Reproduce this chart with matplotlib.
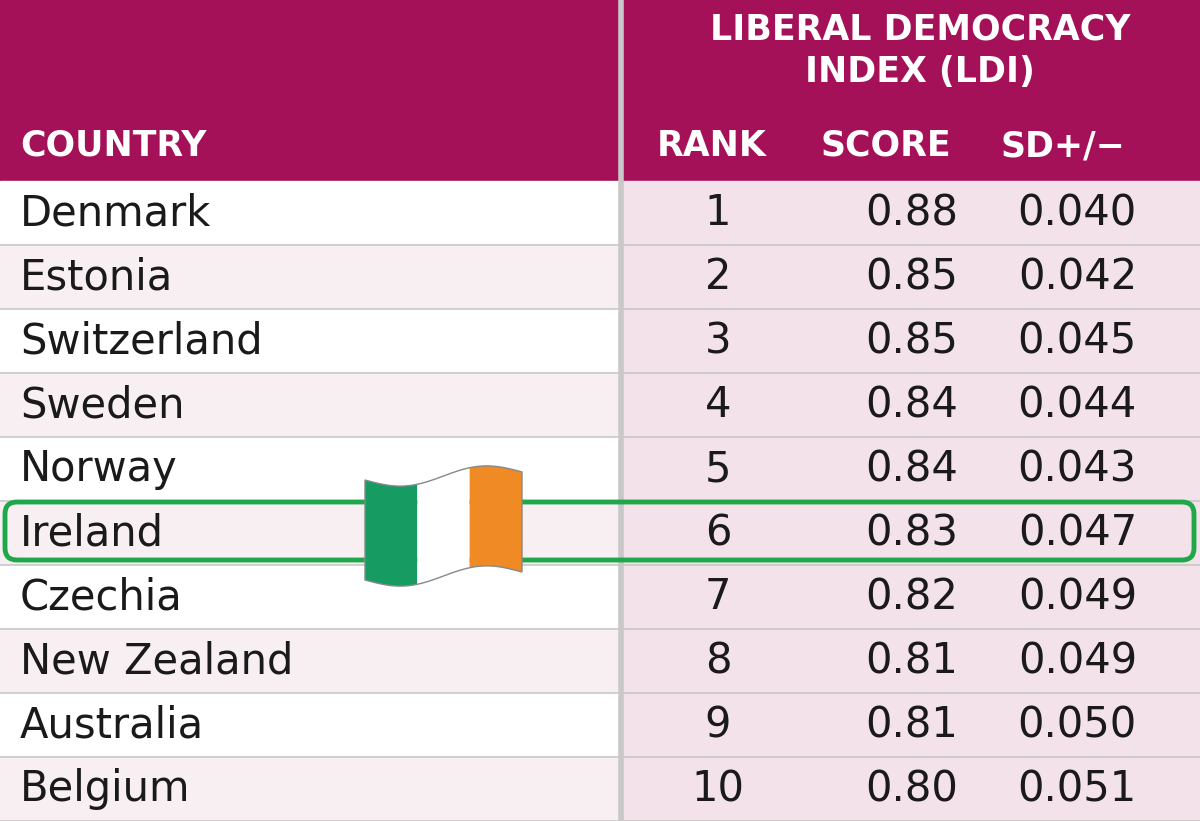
import matplotlib.pyplot as plt
from matplotlib.patches import Rectangle, FancyBboxPatch, Polygon
import numpy as np

countries = ['Denmark', 'Estonia', 'Switzerland', 'Sweden', 'Norway',
             'Ireland', 'Czechia', 'New Zealand', 'Australia', 'Belgium']
ranks = [1, 2, 3, 4, 5, 6, 7, 8, 9, 10]
scores = ['0.88', '0.85', '0.85', '0.84', '0.84', '0.83', '0.82', '0.81', '0.81', '0.80']
sds = ['0.040', '0.042', '0.045', '0.044', '0.043', '0.047', '0.049', '0.049', '0.050', '0.051']

magenta = '#A51158'
fig = plt.figure(figsize=(12, 8.21), dpi=100)
ax = fig.add_axes([0, 0, 1, 1])
ax.set_xlim(0, 1200)
ax.set_ylim(821, 0)
ax.axis('off')

top = 181
row_h = 64
# header
ax.add_patch(Rectangle((0, 0), 1200, top, color=magenta, zorder=1))
hfont = dict(color='white', fontsize=25, fontweight='bold', family='DejaVu Sans')
ax.text(920, 30, 'LIBERAL DEMOCRACY', ha='center', va='center', **hfont)
ax.text(920, 72, 'INDEX (LDI)', ha='center', va='center', **hfont)
ax.text(20, 146, 'COUNTRY', ha='left', va='center', **hfont)
ax.text(712, 146, 'RANK', ha='center', va='center', **hfont)
ax.text(886, 146, 'SCORE', ha='center', va='center', **hfont)
ax.text(1063, 146, 'SD+/\u2212', ha='center', va='center', **hfont)

for i, c in enumerate(countries):
    y0 = top + i * row_h
    yc = y0 + row_h / 2
    ax.add_patch(Rectangle((0, y0), 620, row_h, color='white' if i % 2 == 0 else '#F8EFF3', zorder=1))
    ax.add_patch(Rectangle((620, y0), 580, row_h, color='#F3E2EA', zorder=1))
    ax.plot([0, 1200], [y0 + row_h, y0 + row_h], color='#C8C8C8', lw=1.2, zorder=2)
    tf = dict(fontsize=30, color='#1A1A1A', va='center', family='DejaVu Sans', zorder=3)
    ax.text(20, yc, c, ha='left', **tf)
    ax.text(718, yc, str(ranks[i]), ha='center', **tf)
    ax.text(958, yc, scores[i], ha='right', **tf)
    ax.text(1137, yc, sds[i], ha='right', **tf)

# divider
ax.plot([621, 621], [0, 821], color='#C8C8C8', lw=4, zorder=2)

# highlight Ireland
iy = top + 5 * row_h
ax.add_patch(FancyBboxPatch((5, iy + 1), 1189, row_h - 6,
                            boxstyle='round,pad=0,rounding_size=12',
                            fill=False, ec='#1FA84A', lw=3.5, zorder=4))

# flag
fx = np.linspace(365, 522, 90)
wave = 8 * np.sin((fx - 365) / 157 * 2 * np.pi) - 8 * (fx - 365) / 157
cols = ['#169B62', '#FFFFFF', '#F08A24']
edges = [365, 365 + 157 / 3, 365 + 2 * 157 / 3, 522]
for k in range(3):
    xs = np.linspace(edges[k], edges[k + 1], 30)
    ws = 8 * np.sin((xs - 365) / 157 * 2 * np.pi) - 8 * (xs - 365) / 157
    pts = list(zip(xs, 480 + ws)) + list(zip(xs[::-1], 580 + ws[::-1]))
    ax.add_patch(Polygon(pts, closed=True, fc=cols[k], ec='none', zorder=5))
pts = list(zip(fx, 480 + wave)) + list(zip(fx[::-1], 580 + wave[::-1]))
ax.add_patch(Polygon(pts, closed=True, fill=False, ec='#888888', lw=1, zorder=6))

fig.savefig('out.png', dpi=100)
